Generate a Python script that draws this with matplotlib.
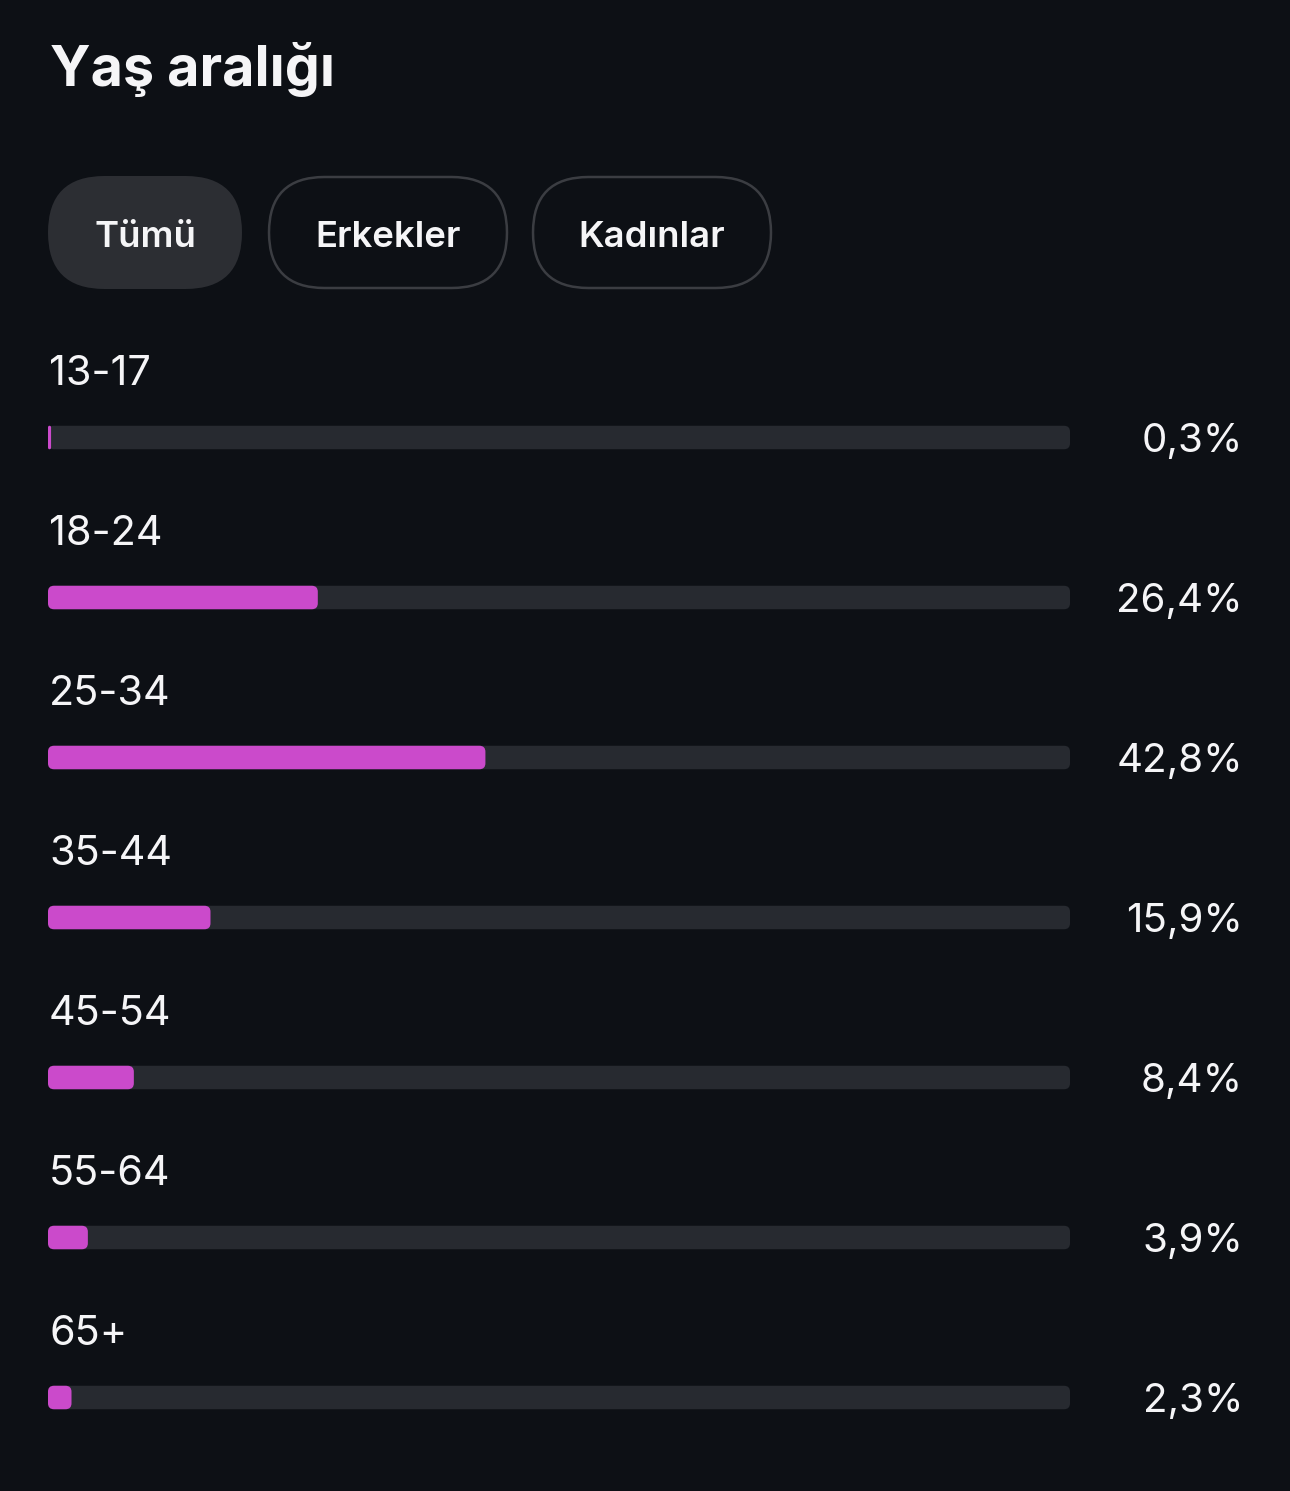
import matplotlib
matplotlib.use("Agg")
import matplotlib.pyplot as plt
from matplotlib.patches import FancyBboxPatch

# ---- data ----
title = "Yaş aralığı"
tabs = ["Tümü", "Erkekler", "Kadınlar"]
categories = ["13-17", "18-24", "25-34", "35-44", "45-54", "55-64", "65+"]
values = [0.3, 26.4, 42.8, 15.9, 8.4, 3.9, 2.3]
value_labels = ["0,3%", "26,4%", "42,8%", "15,9%", "8,4%", "3,9%", "2,3%"]

BG = "#0d1015"
TRACK = "#272a30"
FILL = "#cb4acb"
PILL = "#2c2e33"
PILL_EDGE = "#3b3d42"
WHITE = "#f5f5f7"

plt.rcParams["font.family"] = ["Inter", "DejaVu Sans"]

W, H = 1290, 1491
fig = plt.figure(figsize=(W / 100, H / 100), dpi=100, facecolor=BG)

# decoration axes in pixel coordinates
deco = fig.add_axes([0, 0, 1, 1])
deco.set_xlim(0, W)
deco.set_ylim(H, 0)
deco.axis("off")
deco.set_facecolor(BG)

deco.text(50, 86, title, fontsize=40, fontweight="bold", color=WHITE,
          ha="left", va="baseline")

pill_x = [48, 268, 532]
pill_w = [194, 240, 240]
for i, (t, x0, w) in enumerate(zip(tabs, pill_x, pill_w)):
    y0, h = 176, 113
    if i == 0:
        p = FancyBboxPatch((x0, y0), w, h, boxstyle=f"round,pad=0,rounding_size={h/2}",
                           facecolor=PILL, edgecolor="none")
    else:
        p = FancyBboxPatch((x0 + 1, y0 + 1), w - 2, h - 2,
                           boxstyle=f"round,pad=0,rounding_size={(h-2)/2}",
                           facecolor="none", edgecolor=PILL_EDGE, linewidth=1.8)
    deco.add_patch(p)
    deco.text(x0 + w / 2, 247, t, fontsize=26.3, fontweight="semibold",
              color=WHITE, ha="center", va="baseline")

# bars axes: x 0..100 -> px 48..1070 ; row spacing 160 px
left_px, right_px = 48, 1070
top_px, bot_px = 357, 1477
ax = fig.add_axes([left_px / W, 1 - bot_px / H, (right_px - left_px) / W,
                   (bot_px - top_px) / H])
ax.set_xlim(0, 100)
ax.set_ylim(len(categories) - 0.5, -0.5)
ax.axis("off")
ax.patch.set_alpha(0)

px_per_x = (right_px - left_px) / 100.0
px_per_y = (bot_px - top_px) / len(categories)
aspect = px_per_x / px_per_y
bar_h = 23.5 / px_per_y
r_px = 6

rows = [i + 0.5 / px_per_y for i in range(len(categories))]
tracks = ax.barh(rows, [100] * len(categories), height=bar_h, color=TRACK)
fills = ax.barh(rows, values, height=bar_h, color=FILL)

for rect in list(tracks) + list(fills):
    x, y = rect.get_x(), rect.get_y()
    w, h = rect.get_width(), rect.get_height()
    rs = min(r_px / px_per_x, w / 2)
    fp = FancyBboxPatch((x, y), w, h,
                        boxstyle=f"round,pad=0,rounding_size={rs}",
                        mutation_aspect=aspect,
                        facecolor=rect.get_facecolor(), edgecolor="none",
                        zorder=rect.get_zorder())
    rect.set_visible(False)
    ax.add_patch(fp)

label_dy = (385 - 437) / px_per_y
pct_dy = (452 - 437) / px_per_y
pct_x = (1243 - left_px) / px_per_x
for i, (c, lab) in enumerate(zip(categories, value_labels)):
    ax.text(0.1, i + label_dy, c, fontsize=29.8, color=WHITE, ha="left",
            va="baseline", clip_on=False)
    ax.text(pct_x, i + pct_dy, lab, fontsize=29.0, color=WHITE, ha="right",
            va="baseline", clip_on=False)

fig.savefig("out.png", dpi=100, facecolor=BG)
